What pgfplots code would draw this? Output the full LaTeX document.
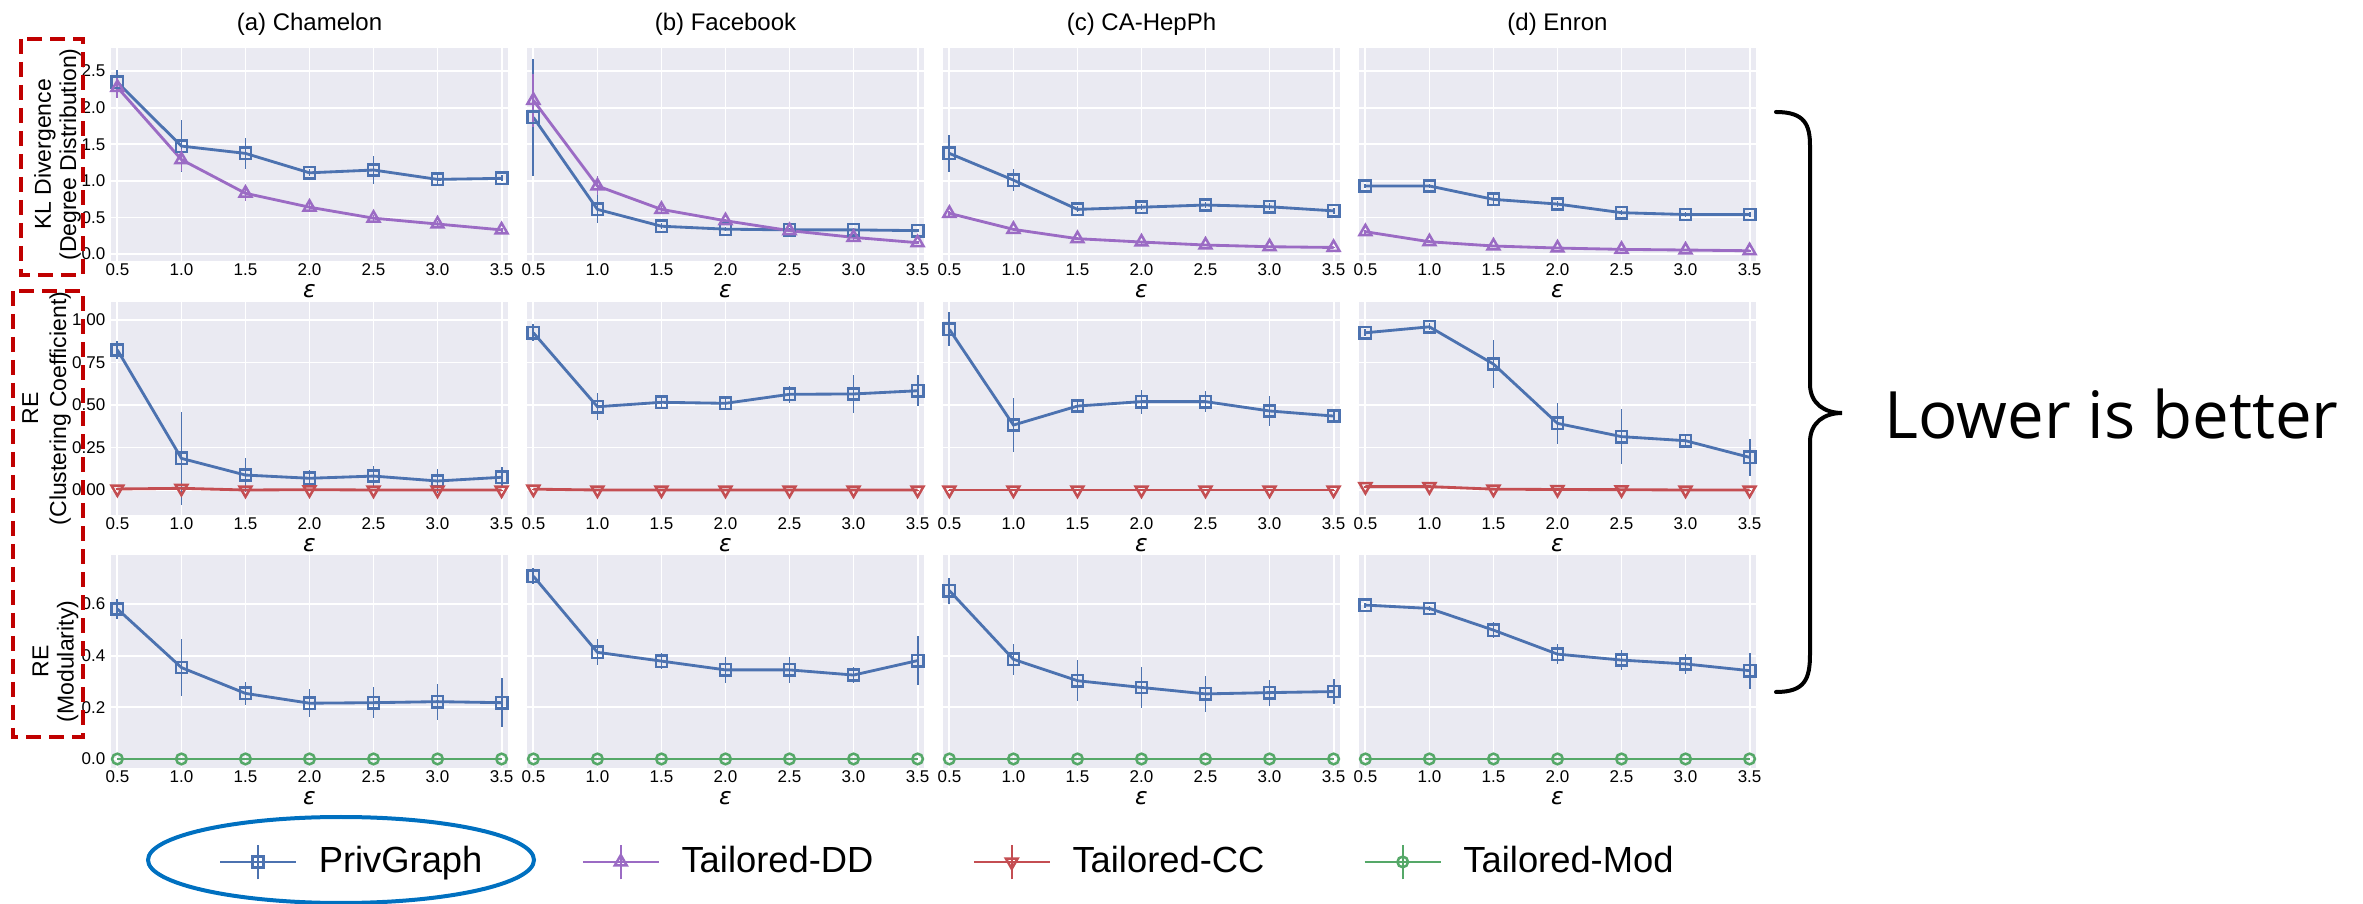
\documentclass[border=0pt]{standalone}
\usepackage{fontspec}
\setmainfont{Liberation Sans}
\newfontfamily\epsfont{DejaVu Sans}
\newfontfamily\notefont{Open Sans}
\usepackage{pgfplots}
\pgfplotsset{compat=1.18}

\definecolor{snsbg}{HTML}{EAEAF2}
\definecolor{cpg}{HTML}{4C72B0}
\definecolor{cdd}{HTML}{9B6BC4}
\definecolor{ccc}{HTML}{C44E52}
\definecolor{cmod}{HTML}{55A868}
\definecolor{boxred}{HTML}{C00000}
\definecolor{ellblue}{HTML}{0070C0}

\pgfplotsset{
  sns/.style={
    scale only axis, width=119.1pt, height=63.9pt,
    xmin=0.45, xmax=3.55,
    xtick={0.5,1.0,1.5,2.0,2.5,3.0,3.5},
    axis background/.style={fill=snsbg},
    axis line style={draw=none},
    major tick length=0pt,
    grid=major, major grid style={draw=white, line width=0.55pt},
    /pgf/number format/assume math mode=true,
    tick label style={font=\fontsize{5.1}{6}\selectfont},
    xticklabel style={inner sep=0.6pt, /pgf/number format/.cd, fixed, fixed zerofill, precision=1},
    yticklabel style={inner sep=0.6pt, xshift=-0.9pt},
    xlabel={{\epsfont\itshape ε}},
    xlabel style={at={(axis description cs:0.5,0)}, anchor=center, yshift=-9pt, font=\fontsize{7}{8}\selectfont},
    clip=false,
  },
  row1/.style={ymin=-0.095, ymax=2.815, ytick={0,0.5,1,1.5,2,2.5},
    yticklabel style={/pgf/number format/.cd, fixed, fixed zerofill, precision=1}},
  row2/.style={ymin=-0.147, ymax=1.106, ytick={0,0.25,0.5,0.75,1},
    yticklabel style={/pgf/number format/.cd, fixed, fixed zerofill, precision=2}},
  row3/.style={ymin=-0.035, ymax=0.79, ytick={0,0.2,0.4,0.6},
    yticklabel style={/pgf/number format/.cd, fixed, fixed zerofill, precision=1}},
  nolab/.style={yticklabels={}},
  pg/.style={color=cpg, line width=0.85pt, mark=square, mark size=1.7pt,
    mark options={solid, fill=none, line width=0.75pt}},
  dd/.style={color=cdd, line width=0.85pt, mark=triangle, mark size=2.05pt,
    mark options={solid, fill=none, line width=0.75pt}},
  cc/.style={color=ccc, line width=0.85pt, mark=triangle, mark size=2.05pt,
    mark options={solid, fill=none, line width=0.75pt, rotate=180}},
  md/.style={color=cmod, line width=0.85pt, mark=o, mark size=1.6pt,
    mark options={solid, fill=none, line width=0.75pt}},
  errb/.style={/pgfplots/error bars/y dir=both, /pgfplots/error bars/y explicit,
    /pgfplots/error bars/error mark=none,
    /pgfplots/error bars/error bar style={line width=0.55pt, solid}},
}

\begin{document}
\begin{tikzpicture}[x=0.3pt, y=0.3pt]
\path[use as bounding box] (0,0) rectangle (2363,904);

% ---------------- Row 1: KL divergence of the degree distribution
\begin{axis}[sns, row1, at={(33.3pt,256.8pt)}, anchor=north west]
\addplot[pg, errb] coordinates {(0.5,2.345) +- (0,0.17) (1.0,1.475) +- (0,0.35) (1.5,1.375) +- (0,0.21) (2.0,1.11) +- (0,0.05) (2.5,1.148) +- (0,0.19) (3.0,1.02) +- (0,0.06) (3.5,1.034) +- (0,0.04)};
\addplot[dd, errb] coordinates {(0.5,2.277) +- (0,0.15) (1.0,1.29) +- (0,0.15) (1.5,0.83) +- (0,0.1) (2.0,0.64) +- (0,0.06) (2.5,0.49) +- (0,0.04) (3.0,0.41) +- (0,0.04) (3.5,0.33) +- (0,0.03)};
\end{axis}
\begin{axis}[sns, row1, nolab, at={(158.1pt,256.8pt)}, anchor=north west]
\addplot[pg, errb] coordinates {(0.5,1.867) +- (0,0.8) (1.0,0.61) +- (0,0.19) (1.5,0.38) +- (0,0.04) (2.0,0.34) +- (0,0.03) (2.5,0.33) +- (0,0.03) (3.0,0.33) +- (0,0.03) (3.5,0.32) +- (0,0.02)};
\addplot[dd, errb] coordinates {(0.5,2.10) +- (0,0.36) (1.0,0.93) +- (0,0.13) (1.5,0.61) +- (0,0.04) (2.0,0.455) +- (0,0.03) (2.5,0.32) +- (0,0.02) (3.0,0.228) +- (0,0.03) (3.5,0.155) +- (0,0.02)};
\end{axis}
\begin{axis}[sns, row1, nolab, at={(282.9pt,256.8pt)}, anchor=north west]
\addplot[pg, errb] coordinates {(0.5,1.375) +- (0,0.25) (1.0,1.01) +- (0,0.15) (1.5,0.61) +- (0,0.04) (2.0,0.64) +- (0,0.04) (2.5,0.67) +- (0,0.04) (3.0,0.646) +- (0,0.05) (3.5,0.59) +- (0,0.04)};
\addplot[dd, errb] coordinates {(0.5,0.556) +- (0,0.03) (1.0,0.337) +- (0,0.02) (1.5,0.21) +- (0,0.02) (2.0,0.164) +- (0,0.02) (2.5,0.123) +- (0,0.01) (3.0,0.10) +- (0,0.01) (3.5,0.09) +- (0,0.01)};
\end{axis}
\begin{axis}[sns, row1, nolab, at={(407.7pt,256.8pt)}, anchor=north west]
\addplot[pg, errb] coordinates {(0.5,0.93) +- (0,0.03) (1.0,0.93) +- (0,0.03) (1.5,0.747) +- (0,0.07) (2.0,0.683) +- (0,0.04) (2.5,0.565) +- (0,0.03) (3.0,0.54) +- (0,0.03) (3.5,0.54) +- (0,0.03)};
\addplot[dd, errb] coordinates {(0.5,0.305) +- (0,0.03) (1.0,0.168) +- (0,0.02) (1.5,0.11) +- (0,0.02) (2.0,0.082) +- (0,0.01) (2.5,0.064) +- (0,0.01) (3.0,0.055) +- (0,0.01) (3.5,0.045) +- (0,0.01)};
\end{axis}

% ---------------- Row 2: relative error of the clustering coefficient
\begin{axis}[sns, row2, at={(33.3pt,180.6pt)}, anchor=north west]
\addplot[pg, errb] coordinates {(0.5,0.824) +- (0,0.055) (1.0,0.186) +- (0,0.275) (1.5,0.088) +- (0,0.1) (2.0,0.069) +- (0,0.05) (2.5,0.082) +- (0,0.06) (3.0,0.053) +- (0,0.07) (3.5,0.075) +- (0,0.06)};
\addplot[cc, errb] coordinates {(0.5,0.006) +- (0,0.005) (1.0,0.01) +- (0,0.005) (1.5,0.0) +- (0,0.003) (2.0,0.002) +- (0,0.003) (2.5,0.0) +- (0,0.003) (3.0,0.0) +- (0,0.003) (3.5,0.0) +- (0,0.003)};
\end{axis}
\begin{axis}[sns, row2, nolab, at={(158.1pt,180.6pt)}, anchor=north west]
\addplot[pg, errb] coordinates {(0.5,0.925) +- (0,0.05) (1.0,0.49) +- (0,0.08) (1.5,0.516) +- (0,0.03) (2.0,0.51) +- (0,0.04) (2.5,0.563) +- (0,0.05) (3.0,0.565) +- (0,0.11) (3.5,0.584) +- (0,0.09)};
\addplot[cc, errb] coordinates {(0.5,0.005) +- (0,0.003) (1.0,0.0) +- (0,0.003) (1.5,0.0) +- (0,0.003) (2.0,0.0) +- (0,0.003) (2.5,0.0) +- (0,0.003) (3.0,0.0) +- (0,0.003) (3.5,0.0) +- (0,0.003)};
\end{axis}
\begin{axis}[sns, row2, nolab, at={(282.9pt,180.6pt)}, anchor=north west]
\addplot[pg, errb] coordinates {(0.5,0.945) +- (0,0.1) (1.0,0.382) +- (0,0.16) (1.5,0.494) +- (0,0.03) (2.0,0.52) +- (0,0.07) (2.5,0.52) +- (0,0.06) (3.0,0.465) +- (0,0.09) (3.5,0.435) +- (0,0.03)};
\addplot[cc, errb] coordinates {(0.5,0.0) +- (0,0.003) (1.0,0.0) +- (0,0.003) (1.5,0.0) +- (0,0.003) (2.0,0.0) +- (0,0.003) (2.5,0.0) +- (0,0.003) (3.0,0.0) +- (0,0.003) (3.5,0.0) +- (0,0.003)};
\end{axis}
\begin{axis}[sns, row2, nolab, at={(407.7pt,180.6pt)}, anchor=north west]
\addplot[pg, errb] coordinates {(0.5,0.925) +- (0,0.02) (1.0,0.96) +- (0,0.02) (1.5,0.741) +- (0,0.14) (2.0,0.392) +- (0,0.12) (2.5,0.314) +- (0,0.16) (3.0,0.29) +- (0,0.04) (3.5,0.192) +- (0,0.11)};
\addplot[cc, errb] coordinates {(0.5,0.02) +- (0,0.005) (1.0,0.02) +- (0,0.005) (1.5,0.005) +- (0,0.003) (2.0,0.003) +- (0,0.003) (2.5,0.002) +- (0,0.003) (3.0,0.0) +- (0,0.003) (3.5,0.0) +- (0,0.003)};
\end{axis}

% ---------------- Row 3: relative error of the modularity
\begin{axis}[sns, row3, at={(33.3pt,104.7pt)}, anchor=north west,
  legend columns=4,
  legend style={at={(0.2695,-0.441)}, anchor=west, draw=none, fill=none, inner sep=0pt,
    font=\fontsize{10.9}{12}\selectfont,
    /tikz/every odd column/.append style={column sep=4.4pt},
    /tikz/every even column/.append style={column sep=27.7pt}},
  legend image code/.code={
    \draw[#1, mark=none, line width=0.55pt] (11.4pt,-5.2pt) -- (11.4pt,5.2pt);
    \draw[mark repeat=2, mark phase=2, #1] plot coordinates {(0pt,0pt) (11.4pt,0pt) (22.8pt,0pt)};
  }]
\addlegendimage{pg}
\addlegendentry{PrivGraph}
\addlegendimage{dd}
\addlegendentry{Tailored-DD}
\addlegendimage{cc}
\addlegendentry{Tailored-CC}
\addlegendimage{md}
\addlegendentry{Tailored-Mod}
\addplot[pg, errb, forget plot] coordinates {(0.5,0.581) +- (0,0.04) (1.0,0.354) +- (0,0.11) (1.5,0.254) +- (0,0.045) (2.0,0.216) +- (0,0.055) (2.5,0.218) +- (0,0.06) (3.0,0.222) +- (0,0.07) (3.5,0.218) +- (0,0.095)};
\addplot[md, forget plot] coordinates {(0.5,0) (1.0,0) (1.5,0) (2.0,0) (2.5,0) (3.0,0) (3.5,0)};
\end{axis}
\begin{axis}[sns, row3, nolab, at={(158.1pt,104.7pt)}, anchor=north west]
\addplot[pg, errb] coordinates {(0.5,0.708) +- (0,0.03) (1.0,0.413) +- (0,0.05) (1.5,0.379) +- (0,0.03) (2.0,0.345) +- (0,0.05) (2.5,0.345) +- (0,0.05) (3.0,0.325) +- (0,0.03) (3.5,0.381) +- (0,0.095)};
\addplot[md] coordinates {(0.5,0) (1.0,0) (1.5,0) (2.0,0) (2.5,0) (3.0,0) (3.5,0)};
\end{axis}
\begin{axis}[sns, row3, nolab, at={(282.9pt,104.7pt)}, anchor=north west]
\addplot[pg, errb] coordinates {(0.5,0.652) +- (0,0.05) (1.0,0.386) +- (0,0.06) (1.5,0.303) +- (0,0.08) (2.0,0.277) +- (0,0.08) (2.5,0.252) +- (0,0.07) (3.0,0.257) +- (0,0.05) (3.5,0.261) +- (0,0.05)};
\addplot[md] coordinates {(0.5,0) (1.0,0) (1.5,0) (2.0,0) (2.5,0) (3.0,0) (3.5,0)};
\end{axis}
\begin{axis}[sns, row3, nolab, at={(407.7pt,104.7pt)}, anchor=north west]
\addplot[pg, errb] coordinates {(0.5,0.596) +- (0,0.01) (1.0,0.583) +- (0,0.01) (1.5,0.499) +- (0,0.03) (2.0,0.406) +- (0,0.04) (2.5,0.383) +- (0,0.04) (3.0,0.368) +- (0,0.04) (3.5,0.342) +- (0,0.07)};
\addplot[md] coordinates {(0.5,0) (1.0,0) (1.5,0) (2.0,0) (2.5,0) (3.0,0) (3.5,0)};
\end{axis}

% ---------------- Column titles
\begin{scope}[every node/.style={anchor=base, inner sep=0pt, font=\fontsize{7.2}{8}\selectfont}]
\node at (309.5,873.5) {(a) Chamelon};
\node at (725.5,873.5) {(b) Facebook};
\node at (1141.5,873.5) {(c) CA-HepPh};
\node at (1557.5,873.5) {(d) Enron};
\end{scope}

% ---------------- Row labels
\node[rotate=90, align=center, inner sep=0pt, font=\fontsize{6.9}{7.6}\selectfont] at (57.5,749.5) {KL Divergence\\(Degree Distribution)};
\node[rotate=90, align=center, inner sep=0pt, font=\fontsize{6.9}{8.4}\selectfont] at (46.5,495.5) {RE\\(Clustering Coefficient)};
\node[rotate=90, align=center, inner sep=0pt, font=\fontsize{6.9}{7.6}\selectfont] at (55.5,242.5) {RE\\(Modularity)};

% ---------------- Highlight boxes
\draw[boxred, line width=1.2pt, dash pattern=on 4.5pt off 2.4pt] (21,865) rectangle (83,629);
\draw[boxred, line width=1.2pt, dash pattern=on 4.5pt off 2.4pt] (12.5,613) rectangle (83,167);
\draw[ellblue, line width=1.2pt] (341,44) ellipse [x radius=193, y radius=43];

% ---------------- Brace and note
\draw[line width=1.2pt, line cap=round] (1776,792) .. controls (1805,792) and (1810,779) .. (1810,758)
  -- (1810,520) .. controls (1810,500) and (1825,491) .. (1842,491)
  .. controls (1825,491) and (1810,482) .. (1810,462)
  -- (1810,250) .. controls (1810,225) and (1805,212) .. (1776,212);
\node[anchor=base west, inner sep=0pt, font=\notefont\fontsize{19.6}{24}\selectfont] at (1884,465) {Lower is better};
\end{tikzpicture}
\end{document}
